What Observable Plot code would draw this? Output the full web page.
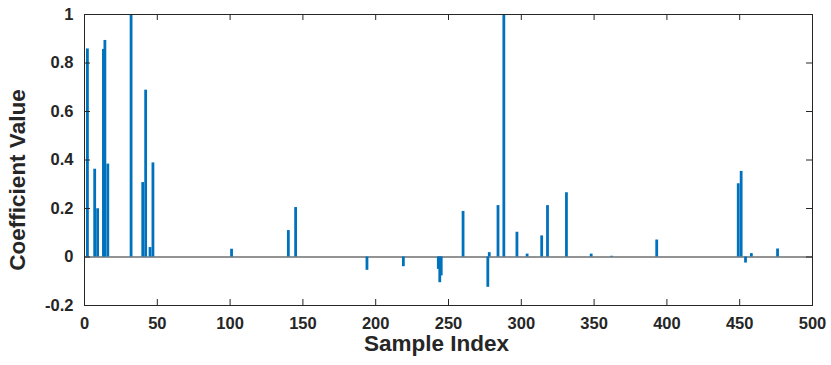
<!DOCTYPE html>
<html><head><meta charset="utf-8">
<script src="https://cdn.jsdelivr.net/npm/d3@7"></script>
<script src="https://cdn.jsdelivr.net/npm/@observablehq/plot@0.6"></script>
<style>body{margin:0;background:#fff}</style>
</head><body><div id="chart"></div>
<script>
const sampleIndex = [2, 7, 9, 13, 14, 16, 32, 40, 42, 45, 47, 101, 140, 145, 194, 219, 243, 244, 245, 260, 277, 278, 284, 288, 297, 304, 314, 318, 331, 348, 362, 393, 449, 451, 454, 458, 476];
const coefficient = [0.858, 0.362, 0.199, 0.856, 0.893, 0.383, 1.0, 0.307, 0.688, 0.039, 0.388, 0.032, 0.109, 0.204, -0.055, -0.040, -0.051, -0.106, -0.078, 0.188, -0.125, 0.018, 0.212, 1.0, 0.102, 0.012, 0.087, 0.212, 0.265, 0.012, 0.003, 0.070, 0.302, 0.353, -0.025, 0.014, 0.033];
const xTicks = [0, 50, 100, 150, 200, 250, 300, 350, 400, 450, 500];
const yTicks = [-0.2, 0, 0.2, 0.4, 0.6, 0.8, 1];
const yTickLabels = ["-0.2", "0", "0.2", "0.4", "0.6", "0.8", "1"];
const xLabel = "Sample Index";
const yLabel = "Coefficient Value";

const data = sampleIndex.map((i, k) => ({i, v: coefficient[k]}));
const axisColor = "#262626";
const W = 831, H = 365, mL = 84, mR = 19, mT = 14, mB = 60;
const frameW = W - mL - mR, frameH = H - mT - mB, tick = 6;

const chart = Plot.plot({
  width: W, height: H,
  marginLeft: mL, marginRight: mR, marginTop: mT, marginBottom: mB,
  style: {fontFamily: "'Liberation Sans', Arial, sans-serif", fontWeight: "bold", fontSize: "16.5px", color: axisColor, background: "#fff"},
  x: {domain: [0, 500]},
  y: {domain: [-0.2, 1]},
  marks: [
    Plot.ruleY([0], {stroke: axisColor, strokeWidth: 1}),
    Plot.ruleX(data, {x: "i", y1: 0, y2: "v", stroke: "#0072BD", strokeWidth: 2.8}),
    Plot.ruleX(xTicks, {stroke: axisColor, insetTop: frameH - tick}),
    Plot.ruleX(xTicks, {stroke: axisColor, insetBottom: frameH - tick}),
    Plot.ruleY(yTicks, {stroke: axisColor, insetRight: frameW - tick}),
    Plot.ruleY(yTicks, {stroke: axisColor, insetLeft: frameW - tick}),
    Plot.frame({stroke: axisColor, strokeWidth: 1}),
    Plot.axisX(xTicks, {anchor: "bottom", tickSize: 0, tickPadding: 12, label: null, fill: axisColor, fontSize: 16.5, tickFormat: d => String(d)}),
    Plot.axisY(yTicks, {anchor: "left", tickSize: 0, tickPadding: 11, label: null, fill: axisColor, fontSize: 16.5, tickFormat: d => yTickLabels[yTicks.indexOf(d)]}),
    Plot.text([xLabel], {frameAnchor: "bottom", dx: -12, dy: 45, fontSize: 22.5, fontWeight: "bold", fill: axisColor}),
    Plot.text([yLabel], {frameAnchor: "left", textAnchor: "middle", rotate: -90, dx: -67, dy: 20, fontSize: 22.5, fontWeight: "bold", fill: axisColor})
  ]
});
document.getElementById("chart").appendChild(chart);
</script>
</body></html>
